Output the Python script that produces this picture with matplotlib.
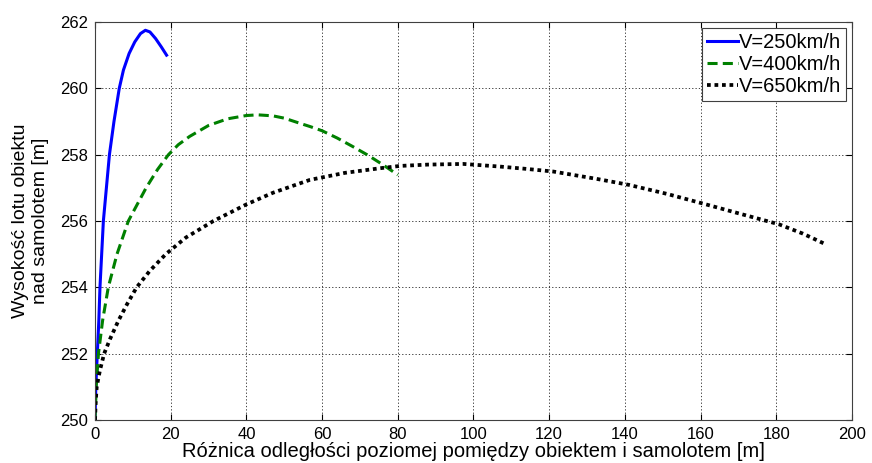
import matplotlib.pyplot as plt
import numpy as np

plt.rcParams['font.family'] = ['Liberation Sans', 'DejaVu Sans']

# V=250km/h
x250 = [0, 0.2, 0.6, 1.0, 1.3, 1.75, 2.2, 3.0, 3.8, 5.0, 6.4, 7.5, 9.0, 10.5, 12, 13.3, 14.5, 16, 17.5, 18.9]
y250 = [250, 251, 252, 253, 254, 255, 256, 257, 258, 259, 260, 260.55, 261.05, 261.4, 261.65, 261.75,
        261.7, 261.5, 261.25, 261.0]

# V=400km/h
x400 = [0, 0.3, 0.9, 2, 3.5, 5.8, 8.8, 13.5, 16.5, 19.4, 22, 25, 30, 35, 40, 43, 47, 50, 54, 57, 60, 64,
        68, 72, 76, 80]
y400 = [250, 251, 252, 253, 254, 255, 256, 257, 257.55, 258, 258.3, 258.55, 258.88, 259.08, 259.18,
        259.2, 259.17, 259.1, 258.95, 258.84, 258.72, 258.5, 258.25, 257.99, 257.7, 257.39]

# V=650km/h
x650 = [0, 0.15, 0.44, 1.3, 2.4, 4.0, 6.2, 8.5, 11, 14.5, 18.7, 24, 31.3, 40, 47, 56.8, 66, 75.3, 80.6,
        88, 97.3, 107, 114, 121.1, 132.5, 141, 151, 161.1, 171, 180.7, 187, 193]
y650 = [250, 250.5, 251, 251.5, 252, 252.45, 253, 253.5, 254, 254.5, 255, 255.5, 256, 256.5, 256.85,
        257.24, 257.45, 257.59, 257.66, 257.7, 257.72, 257.64, 257.57, 257.49, 257.27, 257.09, 256.82,
        256.51, 256.2, 255.9, 255.62, 255.3]

fig = plt.figure(figsize=(8.72, 4.63), dpi=100)
ax = fig.add_axes([0.109, 0.093, 0.868, 0.8595])

ax.plot(x250, y250, color='blue', lw=2.2, label='V=250km/h')
ax.plot(x400, y400, color='#008000', lw=2.2, ls=(0, (3.3, 1.7)), label='V=400km/h')
ax.plot(x650, y650, color='black', lw=2.7, ls=(0, (1, 1.0)), label='V=650km/h')

ax.set_xlim(0, 200)
ax.set_ylim(250, 262)
ax.set_xticks(np.arange(0, 201, 20))
ax.set_yticks(np.arange(250, 263, 2))
ax.grid(True, color='#202020', ls=(0, (1.5, 2.5)), lw=0.6)
ax.tick_params(direction='in', top=True, right=True, labelsize=12, length=4, pad=5)
for s in ax.spines.values():
    s.set_linewidth(0.8)
    s.set_color('#404040')

ax.set_xlabel('Różnica odległości poziomej pomiędzy obiektem i samolotem [m]', fontsize=14.5, labelpad=0)
ax.set_ylabel('Wysokość lotu obiektu\nnad samolotem [m]', fontsize=14, labelpad=8, linespacing=1.2)

leg = ax.legend(loc='upper right', fontsize=14.5, handlelength=1.5, handletextpad=0.05,
                borderaxespad=0.3, fancybox=False, framealpha=1, labelspacing=0.15, borderpad=0.25)
leg.get_frame().set_edgecolor('#404040')
leg.get_frame().set_linewidth(0.8)

fig.savefig('out.png', dpi=100)
